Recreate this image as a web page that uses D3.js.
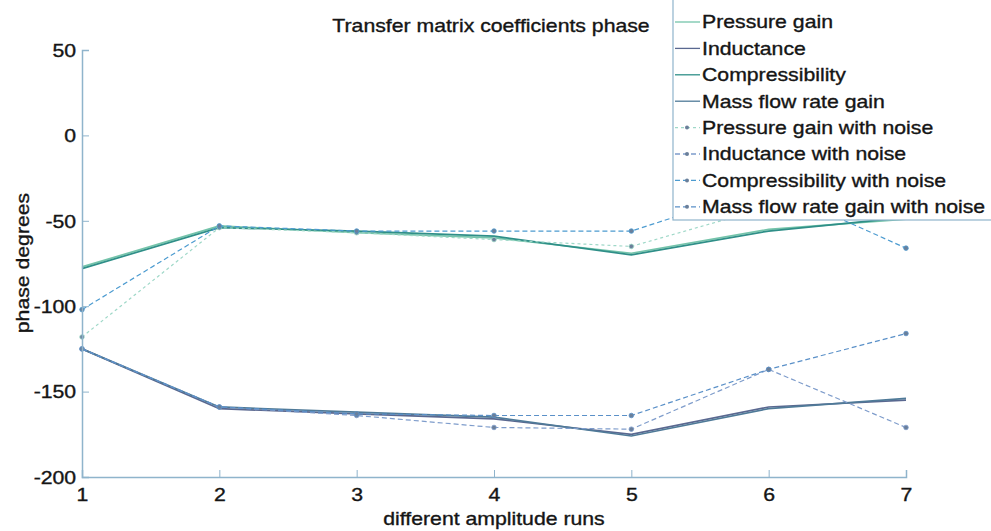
<!DOCTYPE html>
<html><head><meta charset="utf-8">
<script src="https://cdn.jsdelivr.net/npm/d3@7/dist/d3.min.js"></script>
<style>body{margin:0;background:#fff}svg{display:block}text{font-family:"Liberation Sans",Arial,sans-serif;fill:#151515;stroke:#151515;stroke-width:0.35}</style>
</head><body><svg id="c" width="991" height="531"></svg>
<script>
const runs = [1,2,3,4,5,6,7];
const seriesNames = ["Pressure gain","Inductance","Compressibility","Mass flow rate gain","Pressure gain with noise","Inductance with noise","Compressibility with noise","Mass flow rate gain with noise"];
const pressureGain = [-77,-53,-57,-60,-69,-55,-49];
const inductance = [-125,-160,-163,-166,-175,-159,-155];
const compressibility = [-78,-54,-56,-59,-70,-56,-48];
const massFlowGain = [-125,-159,-162,-165,-176,-160,-154];
const pressureGainNoise = [-118,-54,-57,-61,-65,-42,-48];
const inductanceNoise = [-125,-159,-164,-171,-172,-137,-171];
const compressibilityNoise = [-102,-53,-56,-56,-56,-30,-66];
const massFlowGainNoise = [-125,-159,-163,-164,-164,-137,-116];
const yTicks = [50,0,-50,-100,-150,-200];

const values = [pressureGain,inductance,compressibility,massFlowGain,pressureGainNoise,inductanceNoise,compressibilityNoise,massFlowGainNoise];
const colors = ["#74c4aa","#5a6890","#2f8f88","#4f7a98","#9fd8c8","#7e9ccb","#4c9bd0","#5a90c8"];
const dashes = [null,null,null,null,"3,3","5,3","5,3","5,3"];
const markers = [false,false,false,false,true,true,true,true];
const SX = 1.18;

const svg = d3.select("#c");
const x = d3.scaleLinear().domain([1,7]).range([82,906]);
const y = d3.scaleLinear().domain([-200,50]).range([477,50]);
const axisColor = "#8fb4cc";

const line = d3.line().x((d,i)=>x(runs[i])).y(d=>y(d));
values.forEach((v,k)=>{
  svg.append("path").attr("d",line(v)).attr("fill","none")
    .attr("stroke",colors[k]).attr("stroke-width",k<4?1.7:1.2)
    .attr("stroke-dasharray",dashes[k]);
  if(markers[k]) svg.append("g").selectAll("circle").data(v).join("circle")
    .attr("cx",(d,i)=>x(runs[i])).attr("cy",d=>y(d)).attr("r",2.3)
    .attr("fill","#6a7f9a").attr("stroke",colors[k]).attr("stroke-width",0.8);
});

const gx = svg.append("g").attr("transform","translate(0,477)")
  .call(d3.axisBottom(x).tickValues(runs).tickFormat(d3.format("d")).tickSize(-7).tickPadding(20));
const gy = svg.append("g").attr("transform","translate(82,0)")
  .call(d3.axisLeft(y).tickValues(yTicks).tickFormat(d=>String(d)).tickSize(-7).tickPadding(5));
[gx,gy].forEach(g=>{
  g.select(".domain").attr("stroke",axisColor).attr("stroke-width",1.5);
  g.selectAll(".tick line").attr("stroke",axisColor);
  g.selectAll(".tick text").attr("font-size",18).attr("fill","#151515").attr("transform",`scale(${SX},1)`);
});
gy.selectAll(".tick text").attr("dy","0.35em");
gx.selectAll(".tick text").attr("dy","0.2em");

function label(tx,ty,rot,s){
  return svg.append("text").attr("transform",`translate(${tx},${ty}) rotate(${rot}) scale(${SX},1)`)
    .attr("text-anchor","middle").attr("font-size",18).text(s);
}
label(491,32,0,"Transfer matrix coefficients phase");
label(494,525,0,"different amplitude runs");
label(29,263,-90,"phase degrees");

// legend
const lg = svg.append("g");
lg.append("rect").attr("x",673).attr("y",-5).attr("width",330).attr("height",225)
  .attr("fill","#fff").attr("stroke",axisColor).attr("stroke-width",1.2);
seriesNames.forEach((n,k)=>{
  const cy = 22 + k*26.4;
  lg.append("line").attr("x1",675).attr("x2",700).attr("y1",cy).attr("y2",cy)
    .attr("stroke",colors[k]).attr("stroke-width",1.3).attr("stroke-dasharray",dashes[k]);
  if(markers[k]) lg.append("circle").attr("cx",687).attr("cy",cy).attr("r",2).attr("fill","#6a7f9a");
  lg.append("text").attr("transform",`translate(702,${cy}) scale(${SX},1)`).attr("dy","0.35em").attr("font-size",18).text(n);
});
</script></body></html>
